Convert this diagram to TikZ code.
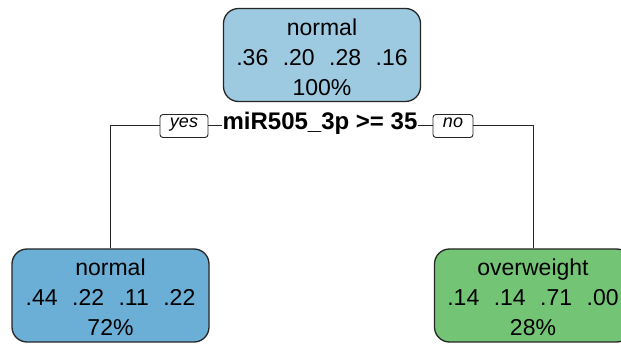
\documentclass[tikz,border=0pt]{standalone}
\usepackage{fontspec}
\setmainfont{Liberation Sans}
\definecolor{rootfill}{HTML}{9ECAE1}
\definecolor{leftfill}{HTML}{6BAED6}
\definecolor{rightfill}{HTML}{74C476}
\begin{document}
\begin{tikzpicture}[x=1pt,y=-1pt,
  treenode/.style={draw=black!85, line width=1.3pt, rounded corners=15pt,
    minimum width=197pt, minimum height=93pt, inner sep=0pt, align=center,
    font=\fontsize{23}{30}\selectfont},
  edgelabel/.style={draw=black!85, line width=0.9pt, rounded corners=3pt, fill=white,
    minimum height=23pt, inner xsep=10pt, inner ysep=0pt,
    font=\fontsize{18}{18}\selectfont\itshape, text height=0.55em, text depth=0.18em},
  splitlabel/.style={inner sep=0pt, font=\fontsize{24}{24}\selectfont\bfseries,
    text height=0.72em, text depth=0pt},
  connector/.style={draw=black!85, line width=1pt}]
\useasboundingbox (0,0) rectangle (621,344);
\clip (0,0) rectangle (621,344);
\fill[white] (0,0) rectangle (621,344);
\newcommand{\gp}{\hspace{0.63em}}
\newcommand{\strt}{\rule{0pt}{21pt}}
\node[treenode, fill=rootfill] (root) at (322,55) {\strt normal\\.36\gp.20\gp.28\gp.16\\100\%};
\node[splitlabel] (split) at (320,126) {miR505\_3p >= 35};
\node[edgelabel] (yes) at (184,126) {yes};
\node[edgelabel] (no) at (453,126) {no};
\node[treenode, fill=leftfill] (left) at (110.5,295.5) {\strt normal\\.44\gp.22\gp.11\gp.22\\72\%};
\node[treenode, fill=rightfill] (right) at (533,295.5) {\strt overweight\\.14\gp.14\gp.71\gp.00\\28\%};
\draw[connector] (left.north) |- (yes.west);
\draw[connector] (yes.east) -- (yes.east -| split.west);
\draw[connector] (split.east |- no.west) -- (no.west);
\draw[connector] (no.east) -| (right.north);
\end{tikzpicture}
\end{document}
